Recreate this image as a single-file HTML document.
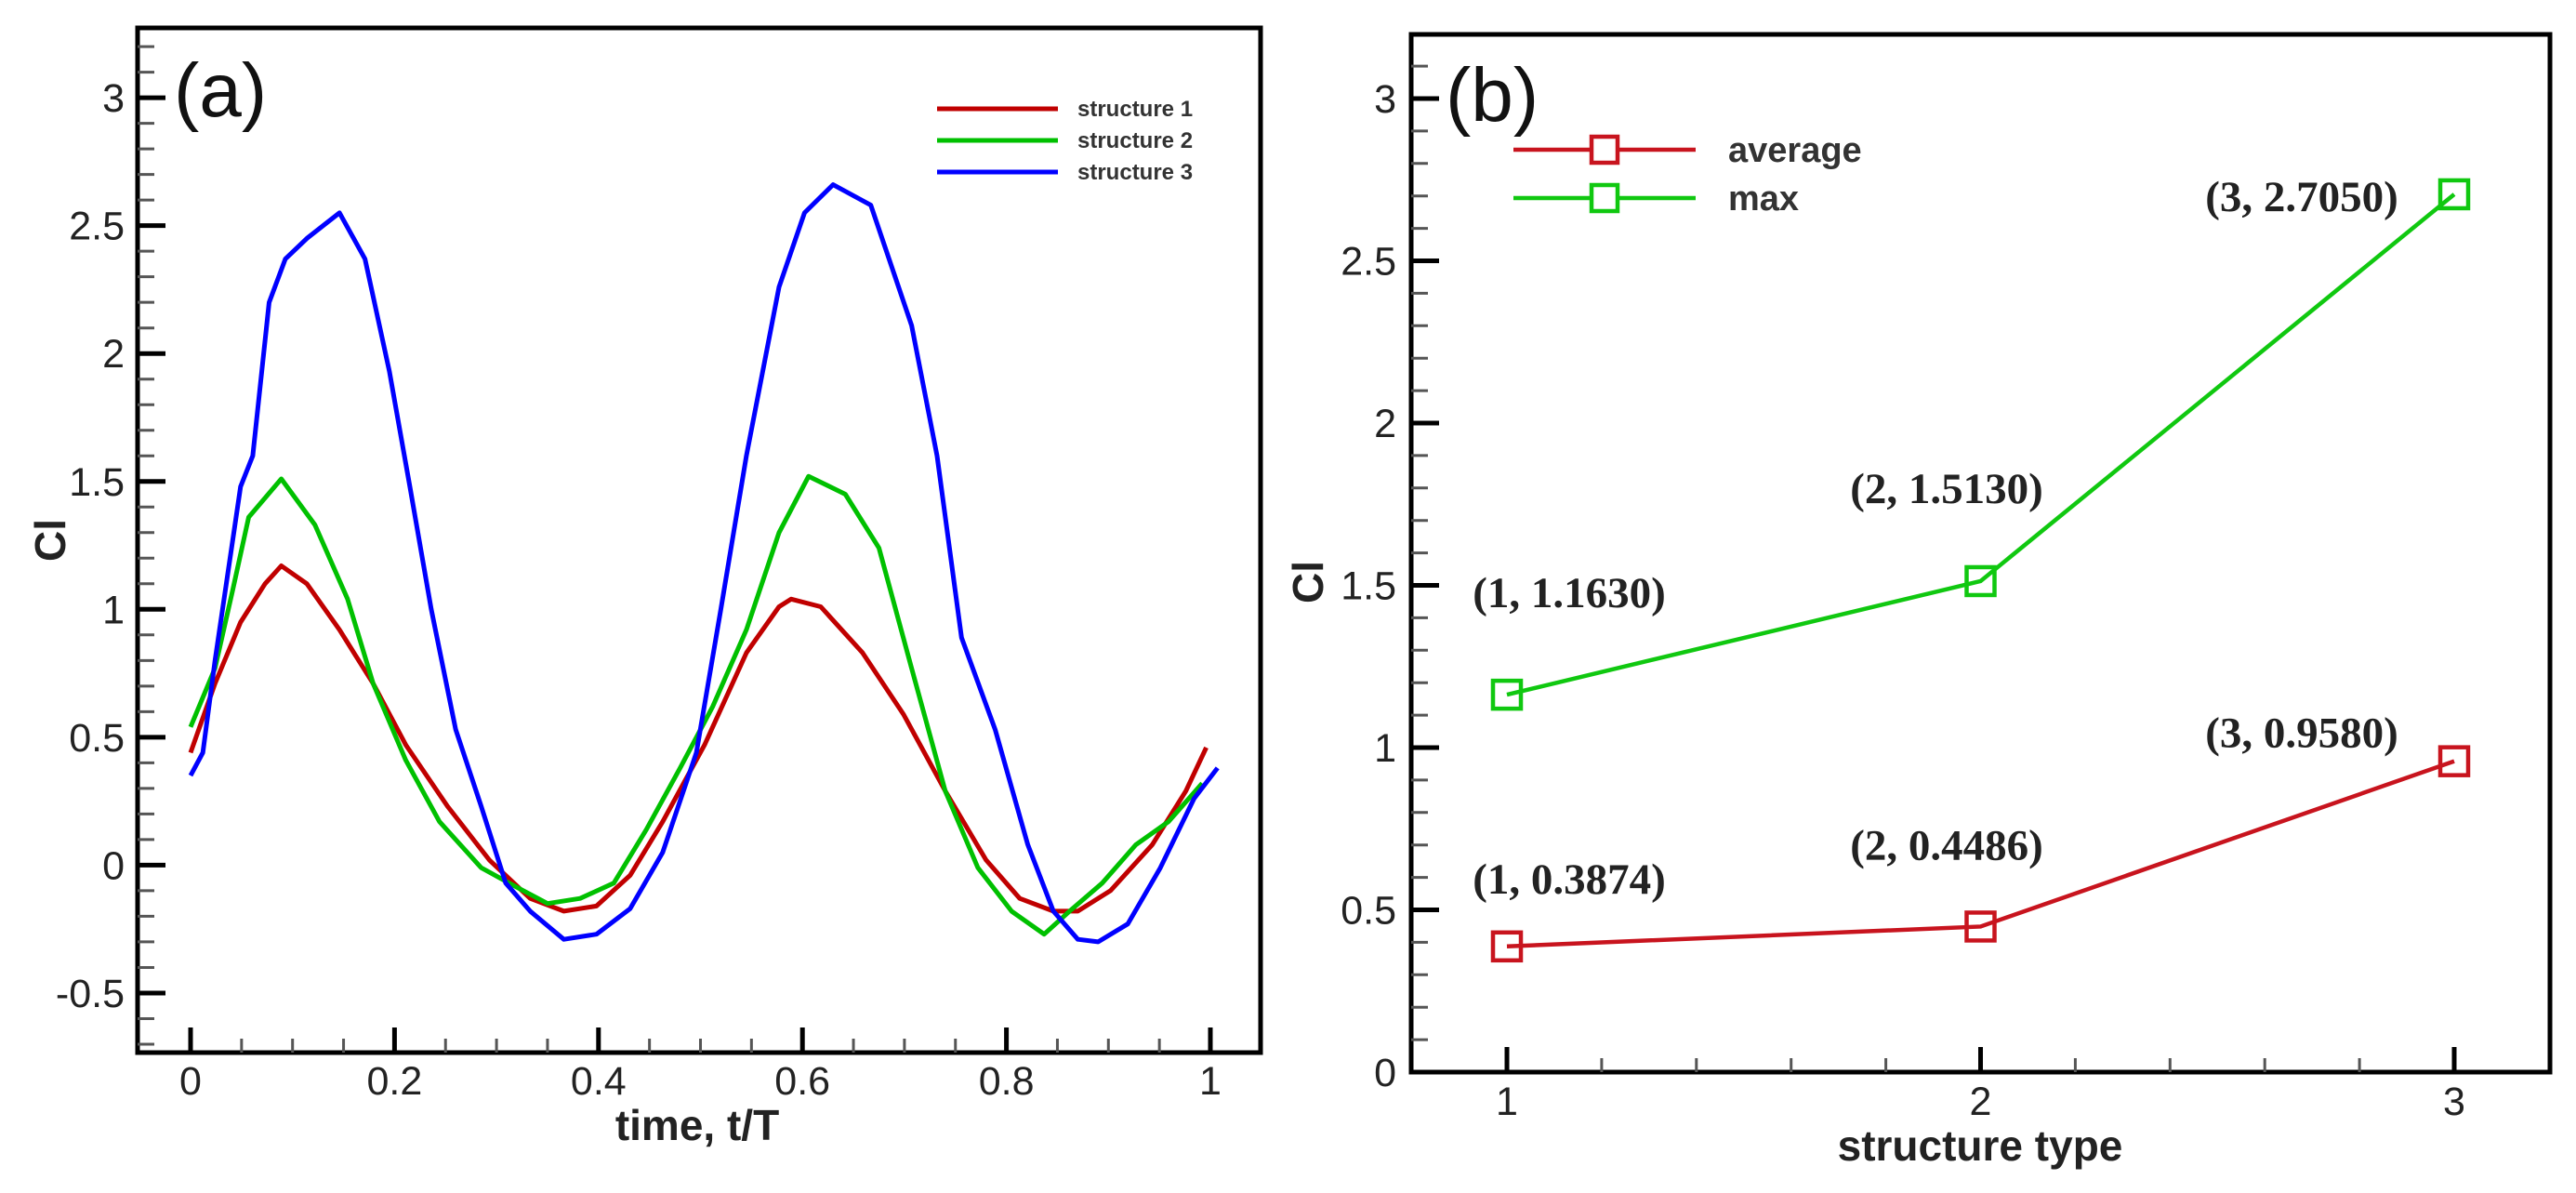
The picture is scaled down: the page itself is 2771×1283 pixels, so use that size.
<!DOCTYPE html>
<html><head><meta charset="utf-8"><style>
html,body{margin:0;padding:0;background:#fff;}
svg{display:block;}
.sans{font-family:"Liberation Sans",sans-serif;}
.serif{font-family:"Liberation Serif",serif;}
</style></head><body>
<svg id="fig" width="2771" height="1283" viewBox="0 0 2771 1283" xmlns="http://www.w3.org/2000/svg">
<g id="pa"></g>
<g id="pb"></g>
</svg>
<script>
// Panel (a) data
const tBlue=[0,.012,.024,.049,.061,.077,.093,.114,.146,.171,.195,.215,.236,.26,.285,.309,.333,.366,.398,.431,.463,.496,.52,.545,.577,.602,.63,.667,.707,.732,.756,.789,.821,.846,.87,.89,.919,.951,.984,1.007];
const clBlue=[.35,.44,.80,1.48,1.60,2.20,2.37,2.45,2.55,2.37,1.93,1.48,1.0,.53,.23,-.07,-.18,-.29,-.27,-.17,.05,.44,1.0,1.6,2.26,2.55,2.66,2.58,2.11,1.6,.89,.53,.08,-.18,-.29,-.30,-.23,-.01,.26,.38];
const tGreen=[0,.024,.041,.057,.089,.122,.154,.179,.211,.244,.285,.317,.35,.382,.415,.447,.48,.512,.545,.577,.606,.642,.675,.707,.74,.772,.805,.837,.862,.894,.927,.959,.992];
const clGreen=[.54,.77,1.07,1.36,1.51,1.33,1.04,.71,.41,.17,-.01,-.08,-.15,-.13,-.07,.14,.38,.62,.92,1.30,1.52,1.45,1.24,.77,.29,-.01,-.18,-.27,-.18,-.07,.08,.17,.32];
const tRed=[0,.024,.049,.073,.089,.114,.146,.179,.211,.252,.293,.333,.366,.398,.431,.463,.504,.545,.577,.589,.618,.659,.699,.74,.78,.813,.846,.87,.902,.943,.976,.996];
const clRed=[.44,.71,.95,1.10,1.17,1.10,.92,.71,.47,.23,.02,-.13,-.18,-.16,-.04,.17,.47,.83,1.01,1.04,1.01,.83,.59,.29,.02,-.13,-.18,-.18,-.10,.08,.29,.46];
const aXTicks=[0,0.2,0.4,0.6,0.8,1];
const aXTickLabels=["0","0.2","0.4","0.6","0.8","1"];
const aYTicks=[-0.5,0,0.5,1,1.5,2,2.5,3];
const aYTickLabels=["-0.5","0","0.5","1","1.5","2","2.5","3"];
const aSeriesNames=["structure 1","structure 2","structure 3"];
// Panel (b) data
const bCategories=[1,2,3];
const bAverage=[0.3874,0.4486,0.9580];
const bMax=[1.1630,1.5130,2.7050];
const bAvgLabels=["(1, 0.3874)","(2, 0.4486)","(3, 0.9580)"];
const bMaxLabels=["(1, 1.1630)","(2, 1.5130)","(3, 2.7050)"];
const bYTicks=[0,0.5,1,1.5,2,2.5,3];
const bYTickLabels=["0","0.5","1","1.5","2","2.5","3"];
const bXTickLabels=["1","2","3"];

const NS="http://www.w3.org/2000/svg";
function mk(parent,tag,attrs,txt){const e=document.createElementNS(NS,tag);for(const k in attrs)e.setAttribute(k,attrs[k]);if(txt!==undefined)e.textContent=txt;parent.appendChild(e);return e;}

// ---- Panel A ----
const pa=document.getElementById('pa');
const ax=v=>205+v*1097;
const ay=v=>930.4-v*275.1;
let f=mk(pa,'rect',{x:148,y:30,width:1208,height:1102,fill:'none',stroke:'#000','stroke-width':5});


for(let i=-7;i<=32;i++){const v=i/10;const y=ay(v);if(y<32||y>1130)continue;const major=i%5===0;
 const t=mk(pa,'line',{x1:148,x2:148+(major?30:18),y1:y,y2:y,stroke:major?'#000':'#555','stroke-width':major?5:3});
 
 }
aYTicks.forEach((v,i)=>{const t=mk(pa,'text',{class:'sans',x:134,y:ay(v)+15,'font-size':43,'text-anchor':'end',fill:'#222'},aYTickLabels[i]);
 
 });
for(let i=0;i<=20;i++){const v=i/20;const x=ax(v);const major=i%4===0;
 const t=mk(pa,'line',{x1:x,x2:x,y1:1132,y2:1132-(major?27:15),stroke:major?'#000':'#555','stroke-width':major?5:3});
 
 }
aXTicks.forEach((v,i)=>{const t=mk(pa,'text',{class:'sans',x:ax(v),y:1177,'font-size':43,'text-anchor':'middle',fill:'#222'},aXTickLabels[i]);
 
 });
let tt=mk(pa,'text',{class:'sans',x:750,y:1226,'font-size':46,'font-weight':'bold','text-anchor':'middle',fill:'#222'},'time, t/T');


tt=mk(pa,'text',{class:'sans',x:70,y:581,'font-size':46,'font-weight':'bold','text-anchor':'middle',fill:'#222',transform:'rotate(-90 70 581)'},'Cl');


tt=mk(pa,'text',{class:'sans',x:187,y:125,'font-size':82,fill:'#111'},'(a)');


const aColors=['#c00000','#00c000','#0000ff'];
[[tRed,clRed],[tGreen,clGreen],[tBlue,clBlue]].forEach((s,k)=>{
 const pts=s[0].map((t,i)=>ax(t).toFixed(1)+','+ay(s[1][i]).toFixed(1)).join(' ');
 const p=mk(pa,'polyline',{points:pts,fill:'none',stroke:aColors[k],'stroke-width':5,'stroke-linejoin':'round'});
 
 
 const ly=117+k*34;
 const l=mk(pa,'line',{x1:1008,x2:1138,y1:ly,y2:ly,stroke:aColors[k],'stroke-width':5});
 
 
 const lt=mk(pa,'text',{class:'sans',x:1159,y:ly+8,'font-size':24,'font-weight':'bold',fill:'#333'},aSeriesNames[k]);
 
 
});

// ---- Panel B ----
const pb=document.getElementById('pb');
const bx=v=>1621+(v-1)*509.5;
const by=v=>1153-v*349;
f=mk(pb,'rect',{x:1518,y:37,width:1225,height:1116,fill:'none',stroke:'#000','stroke-width':5});


for(let i=0;i<=31;i++){const v=i/10;const y=by(v);if(y<40)continue;const major=i%5===0;
 const t=mk(pb,'line',{x1:1518,x2:1518+(major?30:18),y1:y,y2:y,stroke:major?'#000':'#555','stroke-width':major?5:3});
 
 }
bYTicks.forEach((v,i)=>{const t=mk(pb,'text',{class:'sans',x:1502,y:by(v)+15,'font-size':43,'text-anchor':'end',fill:'#222'},bYTickLabels[i]);
 
 });
for(let i=0;i<=10;i++){const v=1+i/5;const x=bx(v);const major=i%5===0;
 const t=mk(pb,'line',{x1:x,x2:x,y1:1153,y2:1153-(major?27:15),stroke:major?'#000':'#555','stroke-width':major?5:3});
 
 }
bCategories.forEach((v,i)=>{const t=mk(pb,'text',{class:'sans',x:bx(v),y:1199,'font-size':43,'text-anchor':'middle',fill:'#222'},bXTickLabels[i]);
 
 });
tt=mk(pb,'text',{class:'sans',x:2130,y:1248,'font-size':46,'font-weight':'bold','text-anchor':'middle',fill:'#222'},'structure type');


tt=mk(pb,'text',{class:'sans',x:1423,y:626,'font-size':46,'font-weight':'bold','text-anchor':'middle',fill:'#222',transform:'rotate(-90 1423 626)'},'Cl');


tt=mk(pb,'text',{class:'sans',x:1555,y:130,'font-size':82,fill:'#111'},'(b)');


const bColors=['#c8141e','#10c810'];
const bNames=['average','max'];
[bAverage,bMax].forEach((vals,k)=>{
 const pts=bCategories.map((c,i)=>bx(c)+','+by(vals[i])).join(' ');
 const p=mk(pb,'polyline',{points:pts,fill:'none',stroke:bColors[k],'stroke-width':4.5});
 
 
 bCategories.forEach((c,i)=>{
  const m=mk(pb,'rect',{x:bx(c)-15,y:by(vals[i])-15,width:30,height:30,fill:'none',stroke:bColors[k],'stroke-width':4.5});
  
  
 });
 const ly=161+k*52;
 const l=mk(pb,'line',{x1:1628,x2:1824,y1:ly,y2:ly,stroke:bColors[k],'stroke-width':4.5});
 
 
 const lm=mk(pb,'rect',{x:1712,y:ly-14,width:28,height:28,fill:'#fff',stroke:bColors[k],'stroke-width':4.5});
 
 
 const lt=mk(pb,'text',{class:'sans',x:1859,y:ly+13,'font-size':38,'font-weight':'bold',fill:'#333'},bNames[k]);
 
 
});
// annotation label centers and offsets from the point (layout, not data)
const annCx=[1688,2094,2476];
const maxOff=[-94,-84,18];
const avgOff=[-57,-72,-15];
bCategories.forEach((c,i)=>{
 const t1=mk(pb,'text',{class:'serif',x:annCx[i],y:by(bMax[i])+maxOff[i],'font-size':47,'font-weight':'bold','text-anchor':'middle',fill:'#222'},bMaxLabels[i]);
 
 
 const t2=mk(pb,'text',{class:'serif',x:annCx[i],y:by(bAverage[i])+avgOff[i],'font-size':47,'font-weight':'bold','text-anchor':'middle',fill:'#222'},bAvgLabels[i]);
 
 
});
</script>
</body></html>
